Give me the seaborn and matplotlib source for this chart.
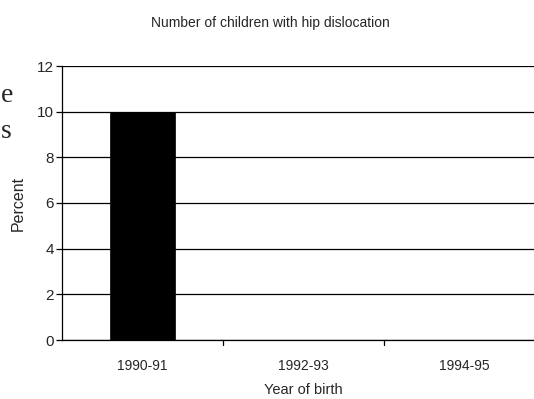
import matplotlib
matplotlib.use("Agg")
import matplotlib.pyplot as plt
import seaborn as sns
import pandas as pd

years = ["1990-91", "1992-93", "1994-95"]
percent = [10, 0, 0]
yticks = [0, 2, 4, 6, 8, 10, 12]

sns.set_style("white")
plt.rcParams["font.family"] = ["Liberation Sans", "DejaVu Sans"]

W, H = 534, 399
fig = plt.figure(figsize=(W / 100, H / 100), dpi=100)
left, right, top, bottom = 62, 545, 66, 340
ax = fig.add_axes([left / W, 1 - bottom / H, (right - left) / W, (bottom - top) / H])

df = pd.DataFrame({"year": years, "percent": percent})
sns.barplot(data=df, x="year", y="percent", color="black", width=0.4,
            edgecolor="black", linewidth=0.5, ax=ax, zorder=3)

ax.set_ylim(0, 12)
ax.set_xlim(-0.5, len(years) - 0.5)
ax.set_yticks(yticks)
ax.set_yticklabels([str(v) for v in yticks], fontsize=11)
ax.yaxis.grid(True, color="black", linewidth=0.9)
ax.set_axisbelow(True)

# category ticks sit between the bars
ax.set_xticks(range(len(years)))
ax.set_xticklabels(years, fontsize=10)
ax.tick_params(axis="x", length=0, pad=14)
for b in [0.5, 1.5]:
    ax.plot([b, b], [0, -0.2], color="black", lw=0.9, clip_on=False)
ax.tick_params(axis="y", length=4, width=0.9, color="black", direction="out", left=True, pad=2)

for s in ["top", "right"]:
    ax.spines[s].set_visible(False)
ax.spines["left"].set_color("black")
ax.spines["bottom"].set_color("black")
ax.spines["left"].set_linewidth(0.9)
ax.spines["bottom"].set_linewidth(0.9)

ax.set_xlabel("Year of birth", fontsize=10.5, labelpad=7)
ax.set_ylabel("Percent", fontsize=11.5, labelpad=8)

fig.text(270 / W, 1 - 23 / H, "Number of children with hip dislocation",
         ha="center", va="center", fontsize=10)

# fragments of the surrounding page text
fig.text(1 / W, 1 - 96 / H, "e", fontsize=20, family="Liberation Serif", va="center")
fig.text(1 / W, 1 - 131 / H, "s", fontsize=20, family="Liberation Serif", va="center")

fig.savefig("out.png", dpi=100)
